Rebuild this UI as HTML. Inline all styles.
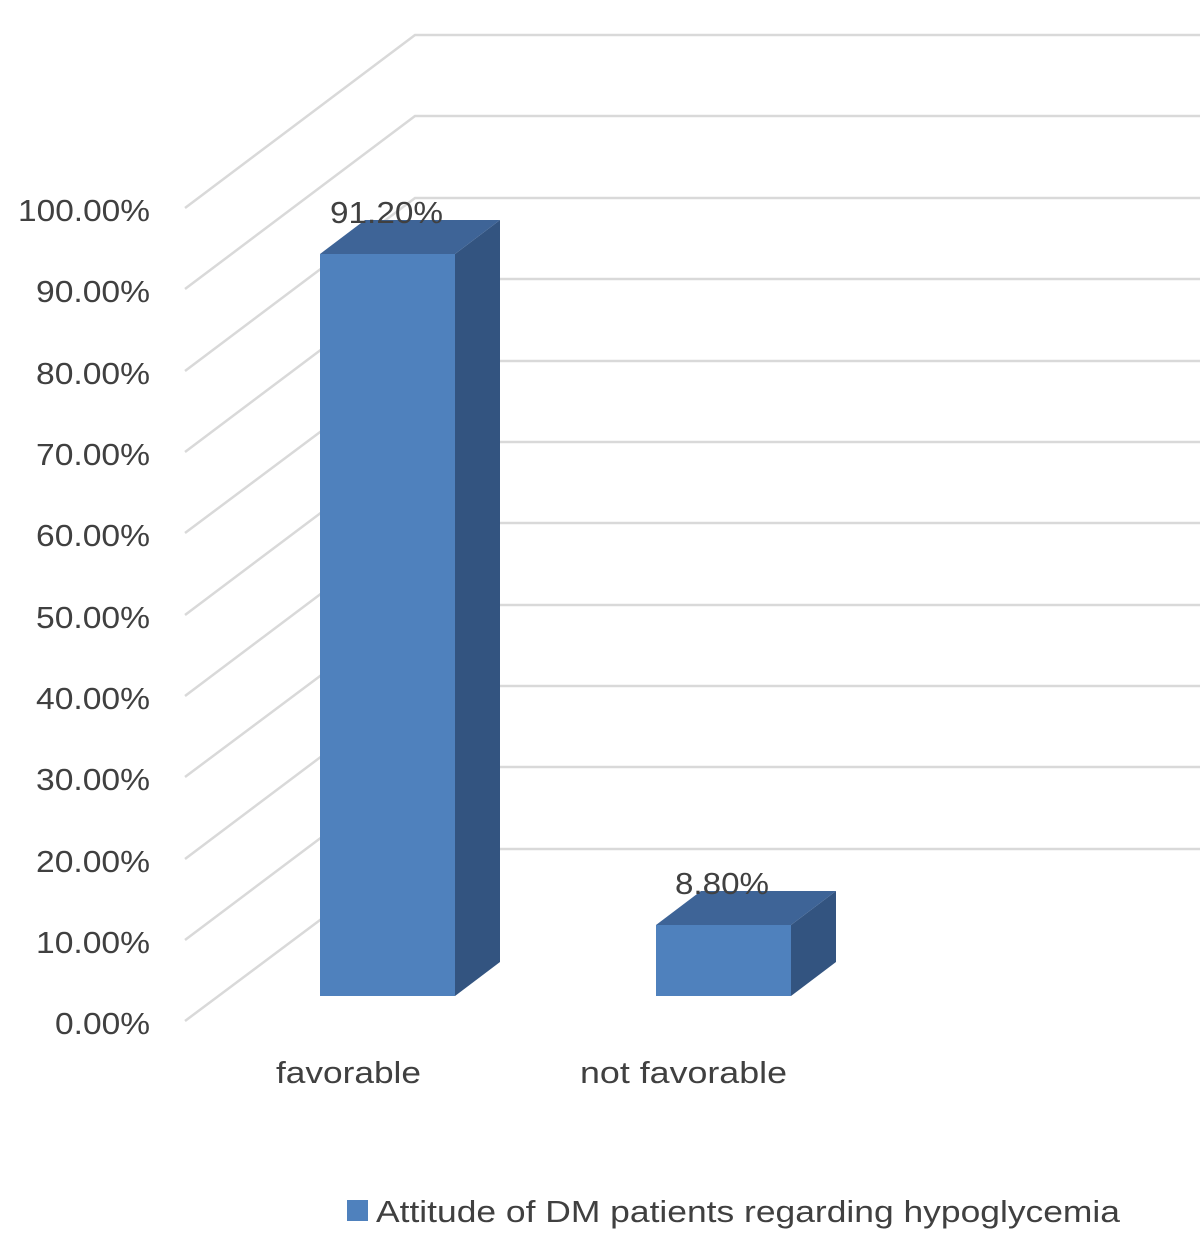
<!DOCTYPE html>
<html><head><meta charset="utf-8"><style>
html,body{margin:0;padding:0;background:#fff;}
svg{display:block;}
text{font-family:"Liberation Sans","DejaVu Sans",sans-serif;fill:#404040;}
</style></head><body>
<svg width="1200" height="1259" viewBox="0 0 1200 1259" xmlns="http://www.w3.org/2000/svg">
<g stroke="#d9d9d9" stroke-width="2.5" fill="none">
<polyline points="185,208 415,35 1200,35"/>
<polyline points="185,289 415,116 1200,116"/>
<polyline points="185,371 415,198 1200,198"/>
<polyline points="185,452 415,279 1200,279"/>
<polyline points="185,533 415,361 1200,361"/>
<polyline points="185,615 415,442 1200,442"/>
<polyline points="185,696 415,523 1200,523"/>
<polyline points="185,777 415,605 1200,605"/>
<polyline points="185,859 415,686 1200,686"/>
<polyline points="185,940 415,767 1200,767"/>
<polyline points="185,1021 415,849 1200,849"/>
</g>
<g font-size="31" text-anchor="end" lengthAdjust="spacingAndGlyphs">
<text x="150" y="221" textLength="132" lengthAdjust="spacingAndGlyphs">100.00%</text>
<text x="150" y="302" textLength="114" lengthAdjust="spacingAndGlyphs">90.00%</text>
<text x="150" y="384" textLength="114" lengthAdjust="spacingAndGlyphs">80.00%</text>
<text x="150" y="465" textLength="114" lengthAdjust="spacingAndGlyphs">70.00%</text>
<text x="150" y="546" textLength="114" lengthAdjust="spacingAndGlyphs">60.00%</text>
<text x="150" y="628" textLength="114" lengthAdjust="spacingAndGlyphs">50.00%</text>
<text x="150" y="709" textLength="114" lengthAdjust="spacingAndGlyphs">40.00%</text>
<text x="150" y="790" textLength="114" lengthAdjust="spacingAndGlyphs">30.00%</text>
<text x="150" y="872" textLength="114" lengthAdjust="spacingAndGlyphs">20.00%</text>
<text x="150" y="953" textLength="114" lengthAdjust="spacingAndGlyphs">10.00%</text>
<text x="150" y="1034" textLength="95" lengthAdjust="spacingAndGlyphs">0.00%</text>
</g>
<!-- bar 1 -->
<polygon points="455,254 500,220 500,962 455,996" fill="#335480"/>
<polygon points="320,254 365,220 500,220 455,254" fill="#3e6497"/>
<rect x="320" y="254" width="135" height="742" fill="#4f81bd"/>
<!-- bar 2 -->
<polygon points="791,925 836,891 836,962 791,996" fill="#335480"/>
<polygon points="656,925 701,891 836,891 791,925" fill="#3e6497"/>
<rect x="656" y="925" width="135" height="71" fill="#4f81bd"/>
<g font-size="31">
<text x="330" y="223" textLength="113" lengthAdjust="spacingAndGlyphs">91.20%</text>
<text x="675" y="894" textLength="94" lengthAdjust="spacingAndGlyphs">8.80%</text>
<text x="276" y="1083" textLength="145" lengthAdjust="spacingAndGlyphs">favorable</text>
<text x="580" y="1083" textLength="207" lengthAdjust="spacingAndGlyphs">not favorable</text>
</g>
<rect x="347" y="1200" width="21" height="21" fill="#4f81bd"/>
<text x="376" y="1222" font-size="31" textLength="744" lengthAdjust="spacingAndGlyphs">Attitude of DM patients regarding hypoglycemia</text>
</svg>
</body></html>
